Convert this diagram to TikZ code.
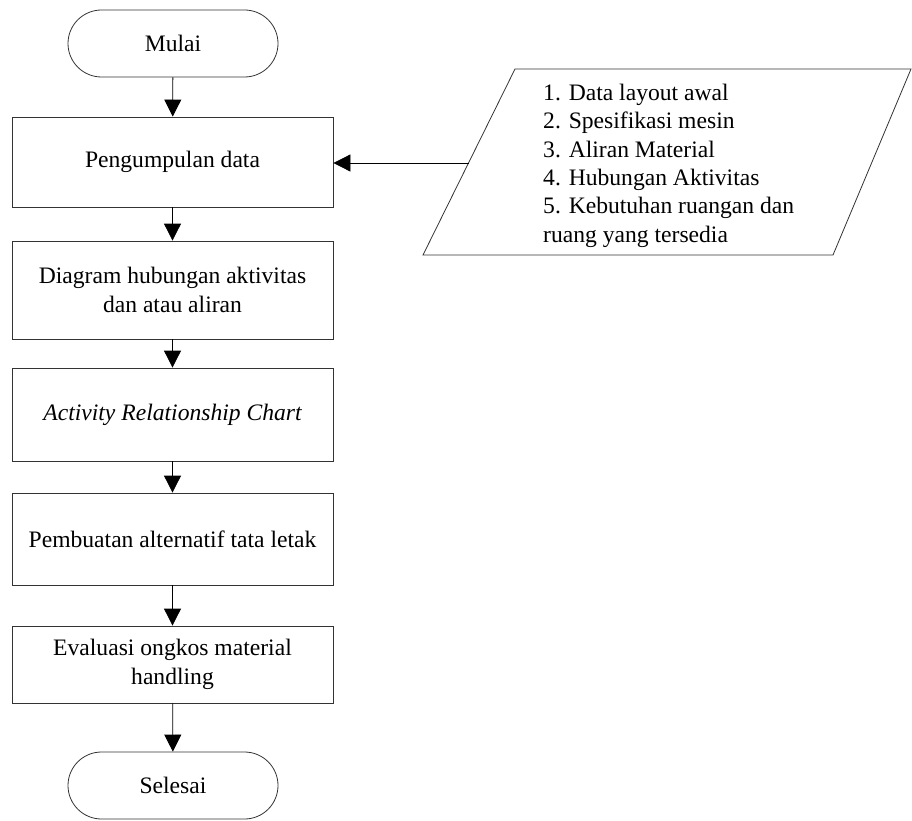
\documentclass[tikz,border=0pt]{standalone}
\usepackage{fontspec}
\setmainfont{Liberation Serif}
\usetikzlibrary{arrows.meta,calc}
\tikzset{
  txt/.style={font=\fontsize{23.6}{28.3}\selectfont},
  stepbox/.style={txt, draw=black!80, line width=0.8pt, minimum width=321pt, inner sep=0pt, align=center},
  term/.style={txt, draw=black!80, line width=0.8pt, minimum width=210pt, minimum height=67pt, rounded corners=33.5pt, inner sep=0pt},
  arr/.style={line width=0.8pt, -{Triangle[length=17pt,width=17pt]}},
}
\begin{document}
\begin{tikzpicture}[x=1pt,y=-1pt]
\useasboundingbox (0,0) rectangle (912,821);
% main flow
\node[term] (mulai) at (173,43.5) {Mulai};
\node[stepbox, minimum height=90pt] (kumpul) at (172.5,162) {Pengumpulan data};
\node[stepbox, minimum height=98pt] (diagram) at (172.5,290) {Diagram hubungan aktivitas\\dan atau aliran};
\node[stepbox, minimum height=93pt] (arc) at (172.5,414.5) {\itshape Activity Relationship Chart};
\node[stepbox, minimum height=92pt] (buat) at (172.5,539) {Pembuatan alternatif tata letak};
\node[stepbox, minimum height=77pt] (eval) at (172.5,664.5) {Evaluasi ongkos material\\handling};
\node[term] (selesai) at (173,785.5) {Selesai};
% input data (parallelogram)
\coordinate (pbl) at (423,255);
\coordinate (ptl) at (515,69);
\coordinate (ptr) at (911,69);
\coordinate (pbr) at (833,255);
\draw[black!80, line width=0.8pt] (pbl) -- (ptl) -- (ptr) -- (pbr) -- cycle;
\coordinate (datain) at ($(pbl)!0.4946!(ptl)$);
\node[txt, anchor=north west, inner sep=0pt, align=left] (list) at (543,84)
  {1. Data layout awal\\2. Spesifikasi mesin\\3. Aliran Material\\4. Hubungan Aktivitas\\5. Kebutuhan ruangan dan\\ruang yang tersedia};
% connectors
\draw[arr] (mulai) -- (kumpul);
\draw[arr] (kumpul) -- (diagram);
\draw[arr] (diagram) -- (arc);
\draw[arr] (arc) -- (buat);
\draw[arr] (buat) -- (eval);
\draw[arr] (eval) -- (selesai);
\draw[arr] (datain) -- (datain -| kumpul.east);
\end{tikzpicture}
\end{document}
